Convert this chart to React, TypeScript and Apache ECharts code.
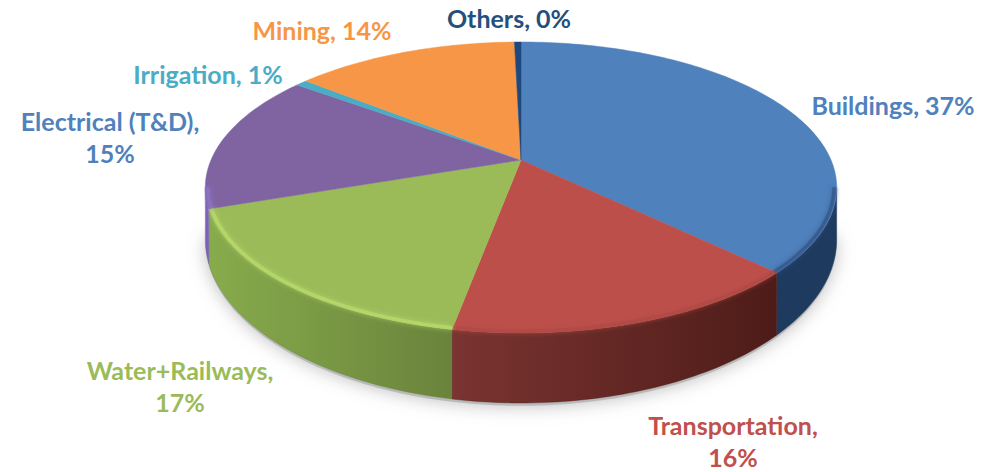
import React, { useEffect, useRef } from "react";
import * as echarts from "echarts";

const categories = ["Buildings", "Transportation", "Water+Railways", "Electrical (T&D)", "Irrigation", "Mining", "Others"];
const shares = [37.3, 15.6, 16.8, 15.45, 0.7, 13.75, 0.4];

const topColors = ["#4f81bd", "#bd4f4b", "#9bbb59", "#8064a2", "#4bacc6", "#f79646", "#1f497d"];
const rimColors = ["#35598a", "#b04845", "#b8d96c", "#8d72c8", "#4bacc6", "#f79646", "#1f497d"];
const labelColors = ["#4f81bd", "#c0504d", "#9bbb59", "#4f81bd", "#4bacc6", "#f79646", "#254f7c"];
const wallStops: string[][] = [
  ["#1f3a5f", "#1f3a5f"],
  ["#7a3431", "#4e1c18"],
  ["#88ac4c", "#6a833c"],
  ["#7a62b8", "#7a62b8"],
  ["#4bacc6", "#4bacc6"],
  ["#f79646", "#f79646"],
  ["#1f497d", "#1f497d"],
];
const wallSpans = [[770, 836], [452, 775], [205, 452], [205, 215], [0, 1], [0, 1], [0, 1]];
const labelAnchors = [[893, 105], [733, 441], [180, 386], [110, 137], [208, 74], [322, 30], [509, 18]];
const labelWrapped = [false, true, true, true, false, false, false];

const CX = 521, CY = 160, RX = 310, RY = 140.3, K = 0.189;
const DEPTH = 49, DEPTH_POW = 1.7;
const SIL_RIGHT = (100.9 * Math.PI) / 180;
const SIL_LEFT = (259.1 * Math.PI) / 180;
const total = shares.reduce((a, b) => a + b, 0);

function project(theta: number, r = 1, drop = 0) {
  const u = Math.sin(theta) * r;
  const v = -Math.cos(theta) * r;
  const s = 1 / (1 - K * v);
  return [CX + RX * u * s, CY + RY * v * s + drop * DEPTH * Math.pow(s, DEPTH_POW)];
}

function arc(a: number, b: number, r = 1, drop = 0) {
  const n = Math.max(2, Math.ceil(Math.abs(b - a) / 0.02));
  const pts: number[][] = [];
  for (let i = 0; i <= n; i++) pts.push(project(a + ((b - a) * i) / n, r, drop));
  return pts;
}

const toPath = (pts: number[][], close = true) =>
  pts.map((p, i) => `${i ? "L" : "M"}${p[0].toFixed(2)} ${p[1].toFixed(2)}`).join(" ") + (close ? " Z" : "");

function pathEl(d: string, style: any, z2 = 0) {
  return {
    type: "path",
    z2,
    shape: { pathData: d },
    style,
  };
}

function renderSlice(params: any, api: any) {
  const i = params.dataIndex;
  const before = shares.slice(0, i).reduce((a, b) => a + b, 0);
  const a = (before / total) * 2 * Math.PI;
  const b = ((before + api.value(0)) / total) * 2 * Math.PI;
  const children: any[] = [];

  const fa = Math.max(a, SIL_RIGHT);
  const fb = Math.min(b, SIL_LEFT);
  if (fb > fa) {
    const pts = [...arc(fa, fb), ...arc(fb, fa, 1, 1)];
    children.push(
      pathEl(toPath(pts), {
        fill: {
          type: "linear",
          global: true,
          x: wallSpans[i][0],
          y: 0,
          x2: wallSpans[i][1],
          y2: 0,
          colorStops: [
            { offset: 0, color: wallStops[i][0] },
            { offset: 1, color: wallStops[i][1] },
          ],
        },
        stroke: wallStops[i][1],
        lineWidth: 0.4,
      })
    );
  }

  const top = [[CX, CY], ...arc(a, b)];
  children.push(pathEl(toPath(top), { fill: topColors[i], stroke: topColors[i], lineWidth: 0.5 }, 1));

  if (fb > fa) {
    children.push(
      pathEl(
        toPath(arc(fa, fb, 0.992), false),
        {
          fill: "none",
          stroke: rimColors[i],
          lineWidth: 3.5,
          opacity: 0.8,
          lineCap: "butt",
          shadowBlur: 5,
          shadowColor: rimColors[i],
        },
        2
      )
    );
  }

  const pct = Math.round((api.value(0) / total) * 100);
  children.push({
    type: "text",
    z2: 5,
    style: {
      text: `${categories[i]},${labelWrapped[i] ? "\n" : " "}${pct}%`,
      x: labelAnchors[i][0],
      y: labelAnchors[i][1],
      align: "center",
      verticalAlign: "middle",
      font: "bold 25px Lato",
      lineHeight: 32,
      fill: labelColors[i],
    },
  });
  return { type: "group", children };
}

function renderShadow() {
  const pts = [...arc(SIL_RIGHT, SIL_LEFT, 1, 1.04), ...arc(SIL_LEFT, SIL_RIGHT, 0.9, 0.6)];
  return pathEl(toPath(pts), {
    fill: "#a8a8a8",
    opacity: 0.65,
    shadowBlur: 18,
    shadowColor: "#999999",
  });
}

export default function App() {
  const ref = useRef<HTMLDivElement>(null);
  useEffect(() => {
    const chart = echarts.init(ref.current!, undefined, { renderer: "svg" });
    chart.setOption({
      animation: false,
      backgroundColor: "#ffffff",
      series: [
        { type: "custom", coordinateSystem: "none", silent: true, z: 1, data: [1], renderItem: renderShadow },
        {
          type: "custom",
          coordinateSystem: "none",
          silent: true,
          z: 2,
          data: shares.map((v, i) => ({ name: categories[i], value: [v] })),
          renderItem: renderSlice,
        },
      ],
    });
    return () => chart.dispose();
  }, []);
  return <div ref={ref} style={{ position: "fixed", left: 0, top: 0, width: 996, height: 472 }} />;
}
